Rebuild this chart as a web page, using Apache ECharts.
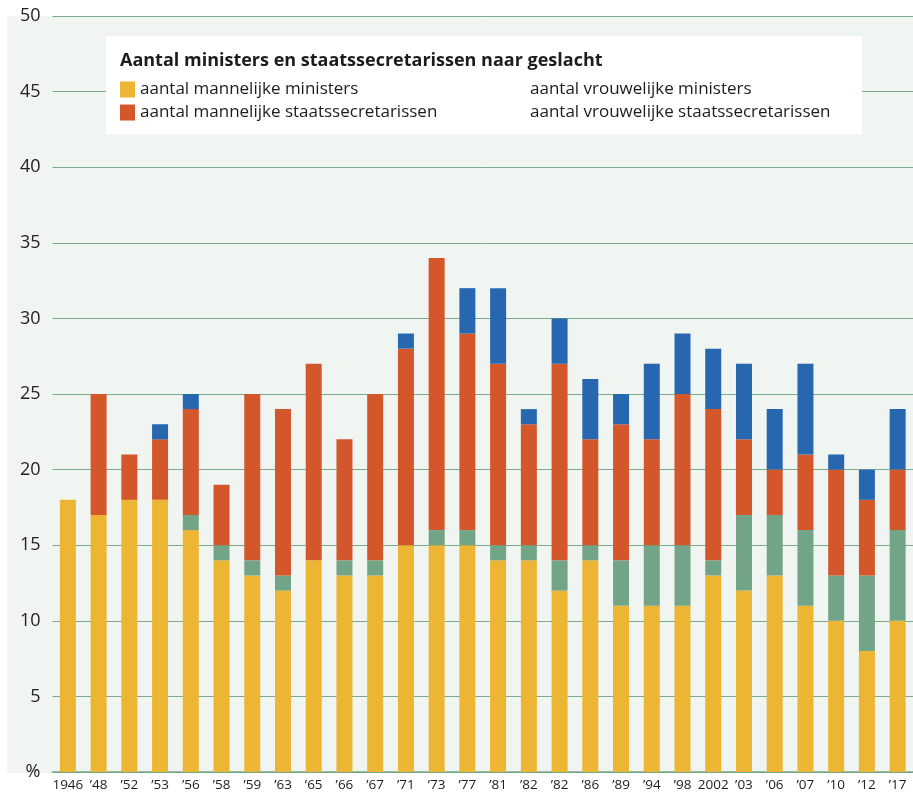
<!DOCTYPE html>
<html>
<head>
    <meta charset="UTF-8">
    <title>Aantal ministers en staatssecretarissen naar geslacht</title>
    <style>
        html, body {
            height: 100%;
            margin: 0;
            padding: 0;
            background: #ffffff;
        }
        #chart-container {
            width: 913px;
            height: 792px;
        }
    </style>
</head>
<body>
<div id="chart-container"></div>

<script src="https://cdn.jsdelivr.net/npm/echarts@6.0.0/dist/echarts.min.js"></script>
<script>
    // kabinetten (x-as)
    const years = ['1946', '\u201948', '\u201952', '\u201953', '\u201956', '\u201958', '\u201959', '\u201963', '\u201965',
        '\u201966', '\u201967', '\u201971', '\u201973', '\u201977', '\u201981', '\u201982', '\u201982', '\u201986', '\u201989',
        '\u201994', '\u201998', '2002', '\u201903', '\u201906', '\u201907', '\u201910', '\u201912', '\u201917'];

    // aantallen per groep (gestapeld)
    const menMinisters   = [18, 17, 18, 18, 16, 14, 13, 12, 14, 13, 13, 15, 15, 15, 14, 14, 12, 14, 11, 11, 11, 13, 12, 13, 11, 10, 8, 10];
    const womenMinisters = [0, 0, 0, 0, 1, 1, 1, 1, 0, 1, 1, 0, 1, 1, 1, 1, 2, 1, 3, 4, 4, 1, 5, 4, 5, 3, 5, 6];
    const menSecretaries = [0, 8, 3, 4, 7, 4, 11, 11, 13, 8, 11, 13, 18, 13, 12, 8, 13, 7, 9, 7, 10, 10, 5, 3, 5, 7, 5, 4];
    const womenSecretaries = [0, 0, 0, 1, 1, 0, 0, 0, 0, 0, 0, 1, 0, 3, 5, 1, 3, 4, 2, 5, 4, 4, 5, 4, 6, 1, 2, 4];

    const yTicks = [0, 5, 10, 15, 20, 25, 30, 35, 40, 45, 50];

    const names = ['aantal mannelijke ministers', 'aantal vrouwelijke ministers',
        'aantal mannelijke staatssecretarissen', 'aantal vrouwelijke staatssecretarissen'];
    const colors = ['#ecb534', '#72a587', '#d3572b', '#2767b0'];
    const font = "'Open Sans', 'Noto Sans', sans-serif";
    const textColor = '#1c1c1c';

    const chart = echarts.init(document.getElementById('chart-container'));

    const legendBase = {
        orient: 'vertical',
        top: 81,
        z: 20,
        padding: 0,
        icon: 'rect',
        itemWidth: 15,
        itemHeight: 16,
        itemGap: 6,
        selectedMode: false,
        textStyle: { fontFamily: font, fontSize: 17, color: textColor }
    };

    const option = {
        animation: false,
        textStyle: { fontFamily: font },
        graphic: [
            {
                type: 'rect',
                z: -10,
                silent: true,
                shape: { x: 7, y: 16, width: 906, height: 757 },
                style: { fill: '#f1f5f1' }
            },
            {
                type: 'rect',
                z: 10,
                silent: true,
                shape: { x: 106, y: 36, width: 756, height: 98 },
                style: { fill: '#ffffff' }
            }
        ],
        title: {
            text: 'Aantal ministers en staatssecretarissen naar geslacht',
            left: 115,
            top: 47,
            z: 20,
            textStyle: { fontFamily: font, fontSize: 18, fontWeight: 'bold', color: textColor }
        },
        legend: [
            Object.assign({}, legendBase, {
                data: [names[0], names[2]],
                left: 120
            }),
            Object.assign({}, legendBase, {
                data: [
                    { name: names[1], itemStyle: { opacity: 0 } },
                    { name: names[3], itemStyle: { opacity: 0 } }
                ],
                left: 510
            })
        ],
        grid: {
            left: 52.5,
            right: -7.5,
            top: 16,
            bottom: 20
        },
        xAxis: {
            type: 'category',
            data: years,
            axisLine: { show: true, lineStyle: { color: '#74a886', width: 1.5 } },
            axisTick: { show: false },
            axisLabel: {
                interval: 0,
                margin: 6,
                fontSize: 13.5,
                fontFamily: font,
                color: textColor
            }
        },
        yAxis: {
            type: 'value',
            min: 0,
            max: 50,
            interval: 5,
            axisLine: { show: false },
            axisTick: { show: false },
            axisLabel: {
                margin: 12,
                fontSize: 18,
                fontFamily: font,
                color: '#222222',
                formatter: function (v) {
                    return v === yTicks[0] ? '%' : String(v);
                }
            },
            splitLine: { lineStyle: { color: '#7aab8a', width: 1 } }
        },
        series: [menMinisters, womenMinisters, menSecretaries, womenSecretaries].map(function (d, i) {
            return {
                name: names[i],
                type: 'bar',
                stack: 'totaal',
                barWidth: 16,
                data: d,
                itemStyle: { color: colors[i] }
            };
        })
    };

    chart.setOption(option);
</script>
</body>
</html>
